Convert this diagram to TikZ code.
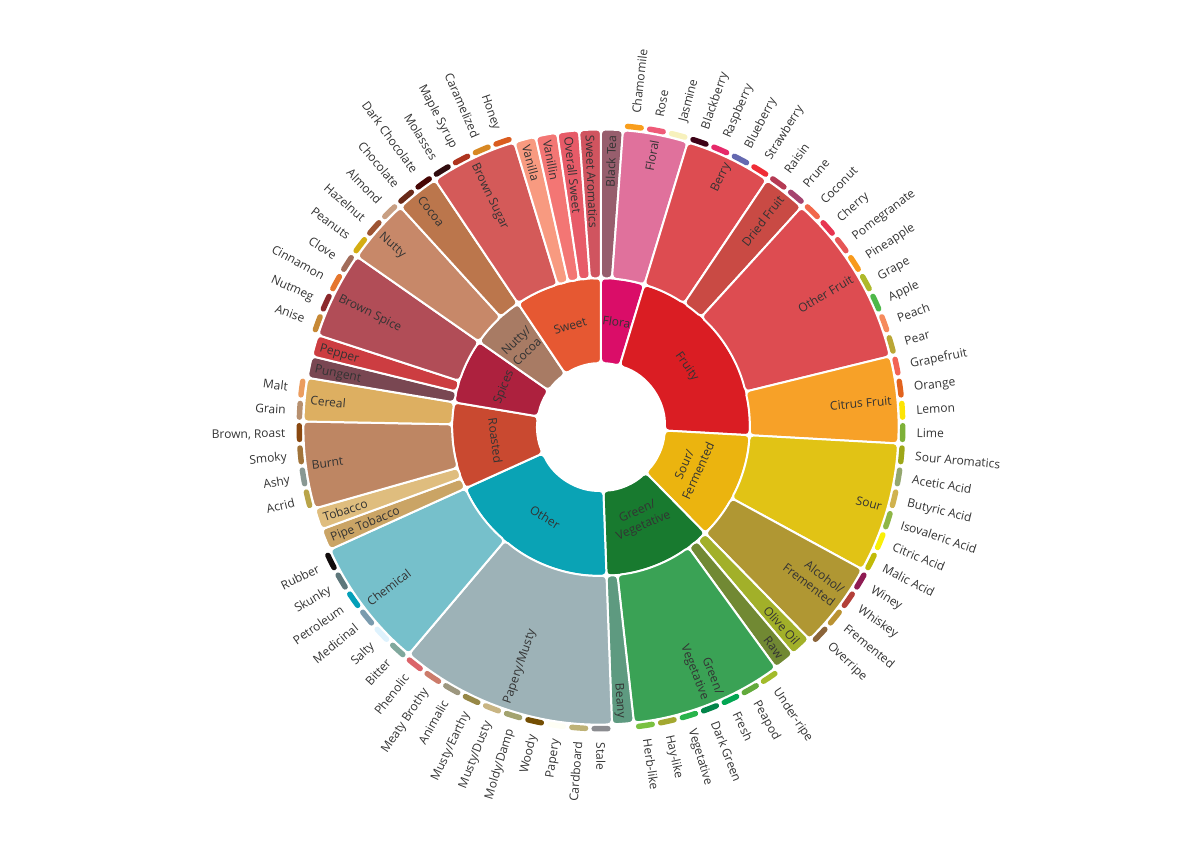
\documentclass[tikz,border=0pt]{standalone}
\usepackage{fontspec}
\setmainfont{Open Sans}
\usetikzlibrary{calc}

\definecolor{inktext}{HTML}{333333}

\newcommand{\leafang}{4.2352941} % 360/85
\newcommand{\rHole}{63.75}
\newcommand{\rCore}{148.75}
\newcommand{\rMid}{297.5}
\newcommand{\rBar}{301.75}

\tikzset{
  piece/.style={draw=white, line width=1.5pt, rounded corners=3pt},
  tip bar/.style={line width=4.1pt, line cap=round},
  wheel label/.style={font=\fontsize{9}{11.5}\selectfont, text=inktext, inner sep=0pt,
    text height=0.72em, text depth=0.02em},
  core label/.style={wheel label, align=center},
  mid label/.style={wheel label, align=right},
}

\begin{document}
\begin{tikzpicture}[x=0.75pt,y=0.75pt]
  \useasboundingbox (-601,-428) rectangle (602,427);

  % inner ring
  \foreach \st/\n/\hex/\lab in {0/4/da0d68/Flora, 4/18/da1d23/Fruity, 22/10/ebb40f/{Sour/\\Fermented},
      32/10/187a2f/{Green/\\Vegetative}, 42/16/0aa3b5/Other, 58/8/c94930/Roasted, 66/6/ad213e/Spices,
      72/5/a87b64/{Nutty/\\Cocoa}, 77/8/e65832/Sweet} {
    \pgfmathsetmacro{\angA}{90-\st*\leafang}
    \pgfmathsetmacro{\angB}{90-(\st+\n)*\leafang}
    \pgfmathsetmacro{\angM}{(\angA+\angB)/2}
    \pgfmathsetmacro{\rot}{mod(\angM+720,180)-90}
    \edef\tmp{\noexpand\definecolor{piecefill}{HTML}{\hex}}\tmp
    \filldraw[piece, fill=piecefill] (\angA:\rHole) arc[start angle=\angA, end angle=\angB, radius=\rHole]
      -- (\angB:\rCore) arc[start angle=\angB, end angle=\angA, radius=\rCore] -- cycle;
    \node[core label, rotate=\rot] (core\st) at (\angM:106.25) {\lab};
  }

  % middle ring
  \foreach \st/\n/\hex/\lab in {0/1/975e6d/Black Tea, 1/3/e0719c/Floral, 4/4/dd4c51/Berry, 8/2/c94a44/Dried Fruit,
      10/8/dd4c51/Other Fruit, 18/4/f7a128/Citrus Fruit, 22/6/e1c315/Sour, 28/4/b09733/{Alcohol/\\Fremented},
      32/1/a2b029/Olive Oil, 33/1/718933/Raw, 34/7/3aa255/{Green/\\Vegetative}, 41/1/5e9a80/Beany,
      42/10/9db2b7/{Papery/Musty}, 52/6/76c0cb/Chemical, 58/1/caa465/Pipe Tobacco, 59/1/dfbd7e/Tobacco,
      60/4/be8663/Burnt, 64/2/ddaf61/Cereal, 66/1/794752/Pungent, 67/1/cc3d41/Pepper, 68/4/b14d57/Brown Spice,
      72/3/c78869/Nutty, 75/2/bb764c/Cocoa, 77/4/d45a59/Brown Sugar, 81/1/f89a80/Vanilla, 82/1/f37674/Vanillin,
      83/1/e75b68/Overall Sweet, 84/1/d0545f/Sweet Aromatics} {
    \pgfmathsetmacro{\angA}{90-\st*\leafang}
    \pgfmathsetmacro{\angB}{90-(\st+\n)*\leafang}
    \pgfmathsetmacro{\angM}{(\angA+\angB)/2}
    \pgfmathtruncatemacro{\lft}{cos(\angM)<-0.0001}
    \ifnum\lft=1 \def\anc{west}\pgfmathsetmacro{\rot}{\angM+180}\else\def\anc{east}\pgfmathsetmacro{\rot}{\angM}\fi
    \edef\tmp{\noexpand\definecolor{piecefill}{HTML}{\hex}}\tmp
    \filldraw[piece, fill=piecefill] (\angA:\rCore) arc[start angle=\angA, end angle=\angB, radius=\rCore]
      -- (\angB:\rMid) arc[start angle=\angB, end angle=\angA, radius=\rMid] -- cycle;
    \node[mid label, anchor=\anc, rotate=\rot] (mid\st) at (\angM:292) {\lab};
  }

  % outer bars and flavour names
  \foreach \i/\hex/\lab in {1/f99e1c/Chamomile, 2/ef5a78/Rose, 3/f7f1bd/Jasmine, 4/3e0317/Blackberry,
      5/e62969/Raspberry, 6/6569b0/Blueberry, 7/ef2d36/Strawberry, 8/b53b54/Raisin, 9/a5446f/Prune,
      10/f2684b/Coconut, 11/e73451/Cherry, 12/e65656/Pomegranate, 13/f89a1c/Pineapple, 14/aeb92c/Grape,
      15/4eb849/Apple, 16/f68a5c/Peach, 17/baa635/Pear, 18/f26355/Grapefruit, 19/e2631e/Orange,
      20/fde404/Lemon, 21/7eb138/Lime, 22/9ea718/Sour Aromatics, 23/94a76f/Acetic Acid,
      24/d0b24f/Butyric Acid, 25/8eb646/Isovaleric Acid, 26/faef07/Citric Acid, 27/c1ba07/Malic Acid,
      28/8f1c53/Winey, 29/b34039/Whiskey, 30/ba9232/Fremented, 31/8b6439/Overripe,
      34/a2bb2b/Under-ripe, 35/62aa3c/Peapod, 36/03a653/Fresh, 37/038549/Dark Green, 38/28b44b/Vegetative,
      39/a3a830/Hay-like, 40/7ac141/Herb-like, 42/8b8c90/Stale, 43/beb276/Cardboard, 44/fefef4/Papery,
      45/744e03/Woody, 46/a3a36f/{Moldy/Damp}, 47/c9b583/{Musty/Dusty}, 48/978847/{Musty/Earthy},
      49/9d977f/Animalic, 50/cc7b6a/Meaty Brothy, 51/db646a/Phenolic, 52/80a89d/Bitter, 53/def2fd/Salty,
      54/7a9bae/Medicinal, 55/039fb8/Petroleum, 56/5e777b/Skunky, 57/120c0c/Rubber, 60/b9a449/Acrid,
      61/899893/Ashy, 62/a1743b/Smoky, 63/894810/{Brown, Roast}, 64/b7906f/Grain, 65/eb9d5f/Malt,
      68/c78936/Anise, 69/8c292c/Nutmeg, 70/e5762e/Cinnamon, 71/a16c5a/Clove, 72/d4ad12/Peanuts,
      73/9d5433/Hazelnut, 74/c89f83/Almond, 75/692a19/Chocolate, 76/470604/Dark Chocolate,
      77/310d0f/Molasses, 78/ae341f/Maple Syrup, 79/d78823/Caramelized, 80/da5c1f/Honey} {
    \pgfmathsetmacro{\angM}{90-(\i+0.5)*\leafang}
    \pgfmathtruncatemacro{\lft}{cos(\angM)<-0.0001}
    \ifnum\lft=1 \def\anc{east}\pgfmathsetmacro{\rot}{\angM+180}\else\def\anc{west}\pgfmathsetmacro{\rot}{\angM}\fi
    \edef\tmp{\noexpand\definecolor{barfill}{HTML}{\hex}}\tmp
    \draw[tip bar, barfill] (\angM+1.3:\rBar) arc[start angle=\angM+1.3, end angle=\angM-1.3, radius=\rBar];
    \node[wheel label, anchor=\anc, rotate=\rot] (leaf\i) at (\angM:315.5) {\lab};
  }
\end{tikzpicture}
\end{document}
